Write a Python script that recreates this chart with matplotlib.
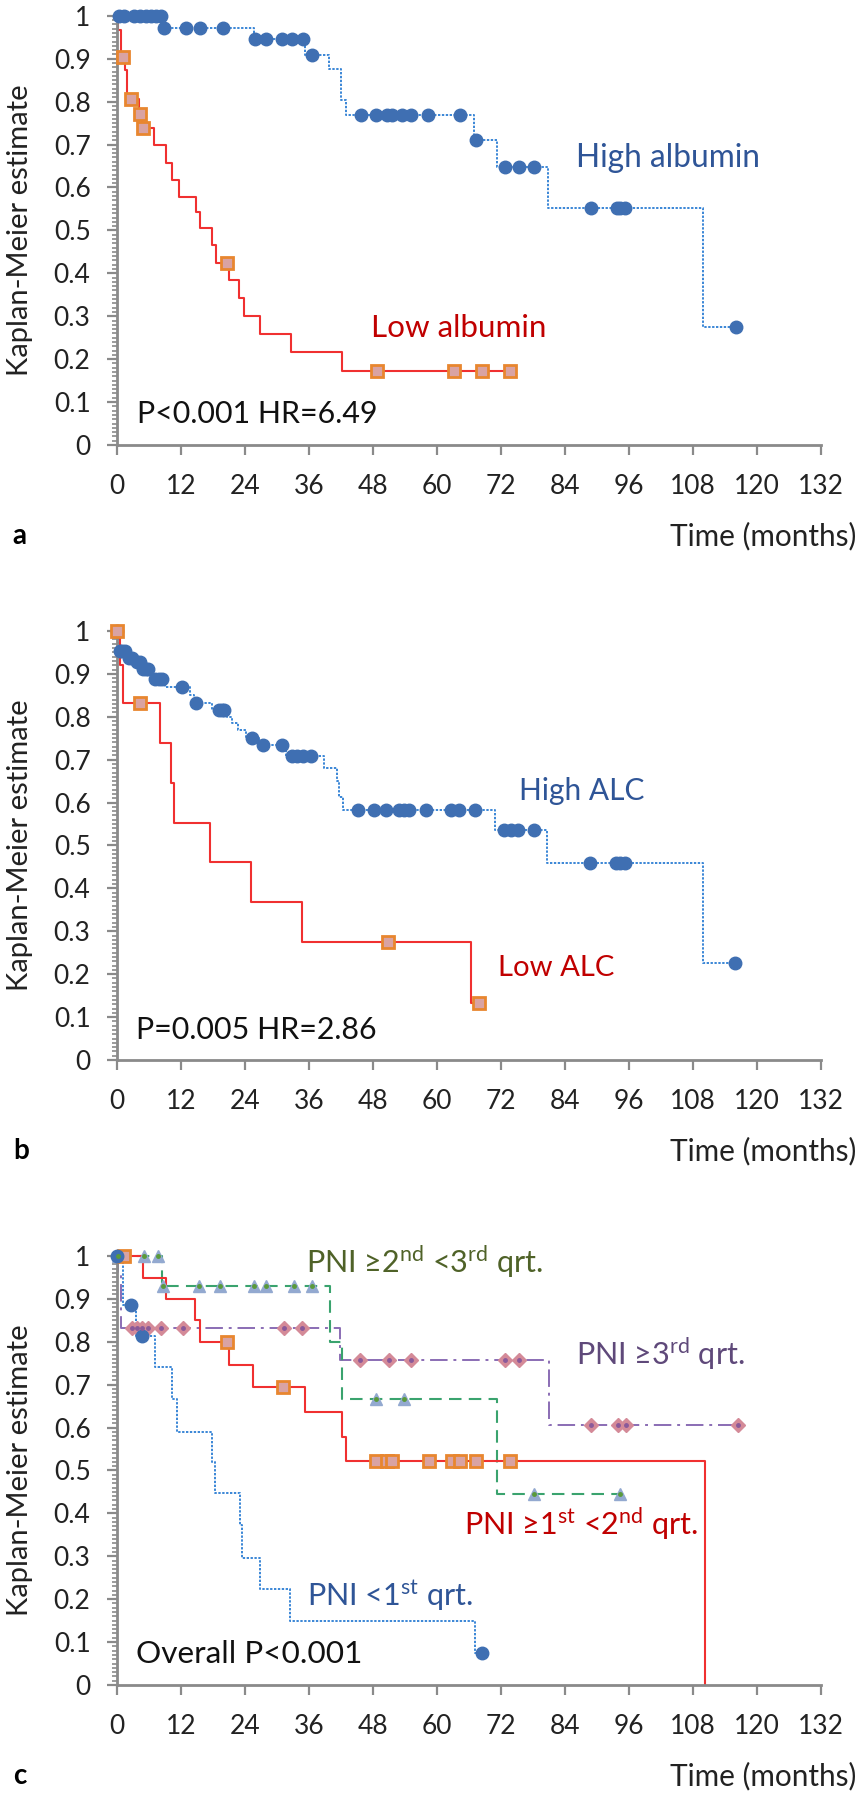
import numpy as np
import matplotlib
matplotlib.use("Agg")
import matplotlib.pyplot as plt
from matplotlib.ticker import MultipleLocator

plt.rcParams['font.family'] = ['Lato', 'DejaVu Sans']
plt.rcParams['mathtext.fontset'] = 'custom'
plt.rcParams['mathtext.rm'] = 'Lato'
plt.rcParams['mathtext.it'] = 'Lato:italic'
plt.rcParams['mathtext.bf'] = 'Lato:bold'

# ---- panel a: albumin ----
hi_alb_t = [8.5, 25.7, 35.3, 39.8, 42.0, 43.0, 66.9, 71.2, 80.9, 109.9]
hi_alb_s = [0.972, 0.945, 0.908, 0.875, 0.804, 0.769, 0.710, 0.648, 0.553, 0.276]
hi_alb_c = [0.3, 1.3, 3.2, 4.4, 5.4, 6.3, 7.3, 8.2, 8.9, 12.9, 15.6, 19.9, 25.9, 27.9,
            31.0, 32.9, 34.8, 36.6, 45.7, 48.5, 50.6, 51.6, 53.4, 55.1, 58.3, 64.4,
            67.3, 72.8, 75.4, 78.2, 88.8, 93.8, 94.4, 95.2, 116.1]
lo_alb_t = [0.2, 0.7, 1.5, 1.9, 4.1, 4.7, 6.9, 9.1, 10.4, 11.6, 14.75, 15.6, 17.9, 18.6,
            21.0, 22.9, 23.8, 26.8, 32.6, 42.1]
lo_alb_s = [0.967, 0.903, 0.873, 0.807, 0.772, 0.738, 0.699, 0.656, 0.617, 0.578, 0.543,
            0.505, 0.466, 0.425, 0.384, 0.342, 0.300, 0.258, 0.216, 0.172]
lo_alb_c = [1.1, 2.6, 4.4, 4.9, 20.7, 48.7, 63.1, 68.5, 73.6]

# ---- panel b: ALC ----
hi_alc_t = [0.2, 0.4, 2.0, 3.4, 4.6, 6.3, 6.8, 9.0, 13.6, 14.4, 17.9, 20.7, 21.6, 22.6,
            24.1, 26.6, 31.6, 38.8, 41.3, 41.6, 42.3, 70.9, 80.6, 109.8]
hi_alc_s = [0.969, 0.954, 0.938, 0.927, 0.911, 0.900, 0.889, 0.870, 0.850, 0.831, 0.815,
            0.800, 0.785, 0.770, 0.751, 0.734, 0.708, 0.680, 0.650, 0.614, 0.582, 0.535,
            0.458, 0.226]
hi_alc_c = [0.0, 0.6, 1.0, 1.5, 2.3, 2.9, 3.8, 4.4, 4.9, 5.4, 5.9, 7.2, 7.8, 8.4, 12.1,
            14.9, 19.1, 19.7, 20.1, 25.4, 27.4, 30.9, 32.9, 33.8, 34.8, 36.3, 45.1, 48.2,
            50.4, 52.9, 53.8, 54.8, 57.9, 62.6, 64.2, 67.1, 72.6, 73.9, 75.1, 78.1, 88.6,
            93.6, 94.4, 95.3, 115.9]
lo_alc_t = [0.5, 1.1, 8.0, 10.1, 10.7, 17.4, 25.1, 34.75, 66.3]
lo_alc_s = [0.920, 0.831, 0.738, 0.646, 0.553, 0.461, 0.368, 0.275, 0.134]
lo_alc_c = [0.0, 4.4, 50.8, 67.9]

# ---- panel c: PNI quartiles ----
pni1_t = [1.2, 3.5, 7.1, 10.4, 11.2, 17.75, 18.3, 23.0, 23.5, 26.75, 32.4, 67.1]
pni1_s = [0.886, 0.814, 0.741, 0.666, 0.590, 0.520, 0.447, 0.373, 0.297, 0.223, 0.148, 0.074]
pni1_c = [0.0, 2.6, 4.75, 68.5]
pni2_t = [4.9, 9.1, 14.6, 15.6, 21.0, 25.5, 35.2, 42.1, 42.9, 110.2]
pni2_s = [0.949, 0.900, 0.851, 0.799, 0.746, 0.694, 0.636, 0.579, 0.521, 0.0]
pni2_c = [1.3, 20.6, 31.2, 48.5, 50.6, 51.6, 58.5, 62.9, 64.4, 67.4, 73.7]
pni3_t = [8.5, 39.9, 42.25, 71.3]
pni3_s = [0.930, 0.799, 0.666, 0.445]
pni3_c = [0.2, 5.1, 7.6, 8.6, 15.4, 19.4, 25.7, 27.9, 33.2, 36.6, 48.6, 53.8, 78.2, 94.3]
pni4_t = [0.2, 0.8, 41.9, 81.0]
pni4_s = [0.958, 0.833, 0.758, 0.606]
pni4_c = [2.9, 3.8, 4.75, 5.9, 8.3, 12.4, 31.3, 34.75, 45.5, 51.0, 55.2, 72.75, 75.4,
          88.8, 93.9, 95.4, 116.4]

x_ticks = list(range(0, 133, 12))
y_ticks = [round(0.1 * i, 1) for i in range(11)]

GRAY = '#8a8a8a'
BLUE_LINE = dict(color='#3a86d6', lw=1.4, ls=(0, (1.2, 0.8)))
BLUE_MK = dict(marker='o', ms=9, mfc='#3f6fb2', mec='#3f6fb2')
RED_LINE = dict(color='#f03030', lw=1.5, ls='-')
SQ_MK = dict(marker='s', ms=8, mfc='#d9a3a3', mec='#e8862f', mew=2)
GREEN_LINE = dict(color='#3aa36e', lw=1.5, ls=(0, (6, 3.5)))
TRI_MK = dict(marker='^', ms=9, mfc='#93a9d0', mec='#93a9d0')
TRI_IN = dict(marker='o', ms=2.5, mfc='#5a9a3a', mec='#5a9a3a')
PURP_LINE = dict(color='#8a6db4', lw=1.4, ls=(0, (9, 3, 1.5, 3)))
DIA_MK = dict(marker='D', ms=7, mfc='#d48a98', mec='#d48a98')
DIA_IN = dict(marker='o', ms=2.5, mfc='#8a5a9a', mec='#8a5a9a')

fig = plt.figure(figsize=(8.62, 18.0), dpi=100)
renderer = fig.canvas.get_renderer()


def step_at(times, surv, t):
    y = 1.0
    for ti, si in zip(times, surv):
        if ti <= t:
            y = si
    return y


def draw_km(ax, times, surv, censor, line, marker, inner=None):
    end = max(times[-1], censor[-1])
    xs = [0.0] + list(times) + [end]
    ys = [1.0] + list(surv) + [surv[-1]]
    ax.step(xs, ys, where='post', clip_on=False, zorder=2, **line)
    cy = [step_at(times, surv, t) for t in censor]
    ax.plot(censor, cy, ls='none', clip_on=False, zorder=3, **marker)
    if inner:
        ax.plot(censor, cy, ls='none', clip_on=False, zorder=4, **inner)


def fit_width(t, px):
    # scale a text so its drawn width matches the width measured on the reference
    w = t.get_window_extent(renderer).width
    t.set_fontsize(t.get_fontsize() * px / w)


def note(ax, x0, x1, y, s, color):
    t = ax.text(x0, y, s, color=color, fontsize=22, va='baseline', ha='left')
    px = ax.transData.transform((x1, 0))[0] - ax.transData.transform((x0, 0))[0]
    fit_width(t, px)


def style_axes(ax, letter):
    ax.set_xlim(0, 132)
    ax.set_ylim(0, 1)
    for s in ['top', 'right']:
        ax.spines[s].set_visible(False)
    for s in ['left', 'bottom']:
        ax.spines[s].set_color(GRAY)
        ax.spines[s].set_linewidth(2)
    ax.set_xticks(x_ticks)
    ax.set_yticks(y_ticks)
    ax.set_yticklabels(['%g' % v for v in y_ticks])
    ax.yaxis.set_minor_locator(MultipleLocator(0.01))
    ax.tick_params(axis='both', which='major', direction='out', length=7, width=1.6,
                   color=GRAY, labelsize=19, labelcolor='#222222')
    ax.tick_params(axis='y', which='minor', direction='out', length=3.5, width=1.2, color=GRAY)
    ax.tick_params(axis='x', pad=14)
    ax.tick_params(axis='y', pad=12)
    lab = ax.set_ylabel('Kaplan-Meier estimate', fontsize=20, color='#222222')
    h = lab.get_window_extent(renderer).height
    lab.set_fontsize(20 * 292 / h)
    ax.yaxis.set_label_coords(-0.119, 0.5)
    tm = ax.text(1.051, -0.212, 'Time (months)', transform=ax.transAxes, ha='right',
                 va='center', fontsize=19, color='#222222')
    fit_width(tm, 187)
    ax.text(-0.148, -0.212, letter, transform=ax.transAxes, ha='left', va='center',
            fontsize=20, fontweight='bold')


left, width, height = 0.1357, 0.8167, 0.2384
ax_a = fig.add_axes([left, 0.7528, width, height])
ax_b = fig.add_axes([left, 0.4111, width, height])
ax_c = fig.add_axes([left, 0.0639, width, height])

# panel a
draw_km(ax_a, hi_alb_t, hi_alb_s, hi_alb_c, BLUE_LINE, BLUE_MK)
draw_km(ax_a, lo_alb_t, lo_alb_s, lo_alb_c, RED_LINE, SQ_MK)
style_axes(ax_a, 'a')
note(ax_a, 86.0, 120.4, 0.648, 'High albumin', '#2f5597')
note(ax_a, 47.6, 80.4, 0.252, 'Low albumin', '#c00000')
note(ax_a, 3.75, 48.8, 0.052, 'P<0.001 HR=6.49', '#111111')

# panel b
draw_km(ax_b, hi_alc_t, hi_alc_s, hi_alc_c, BLUE_LINE, BLUE_MK)
draw_km(ax_b, lo_alc_t, lo_alc_s, lo_alc_c, RED_LINE, SQ_MK)
style_axes(ax_b, 'b')
note(ax_b, 75.4, 98.8, 0.607, 'High ALC', '#2f5597')
note(ax_b, 71.4, 93.2, 0.195, 'Low ALC', '#c00000')
note(ax_b, 3.5, 48.7, 0.05, 'P=0.005 HR=2.86', '#111111')

# panel c
draw_km(ax_c, pni4_t, pni4_s, pni4_c, PURP_LINE, DIA_MK, DIA_IN)
draw_km(ax_c, pni3_t, pni3_s, pni3_c, GREEN_LINE, TRI_MK, TRI_IN)
draw_km(ax_c, pni2_t, pni2_s, pni2_c, RED_LINE, SQ_MK)
draw_km(ax_c, pni1_t, pni1_s, pni1_c, BLUE_LINE, BLUE_MK)
style_axes(ax_c, 'c')
note(ax_c, 35.4, 79.8, 0.960, r'PNI ≥2$^{\mathrm{nd}}$ <3$^{\mathrm{rd}}$ qrt.', '#4f6228')
note(ax_c, 86.0, 117.6, 0.746, r'PNI ≥3$^{\mathrm{rd}}$ qrt.', '#5f497a')
note(ax_c, 65.0, 108.9, 0.350, r'PNI ≥1$^{\mathrm{st}}$ <2$^{\mathrm{nd}}$ qrt.', '#c00000')
note(ax_c, 35.7, 66.8, 0.183, r'PNI <1$^{\mathrm{st}}$ qrt.', '#2f5597')
note(ax_c, 3.5, 45.7, 0.052, 'Overall P<0.001', '#111111')

fig.savefig('out.png', dpi=100)
plt.close(fig)
